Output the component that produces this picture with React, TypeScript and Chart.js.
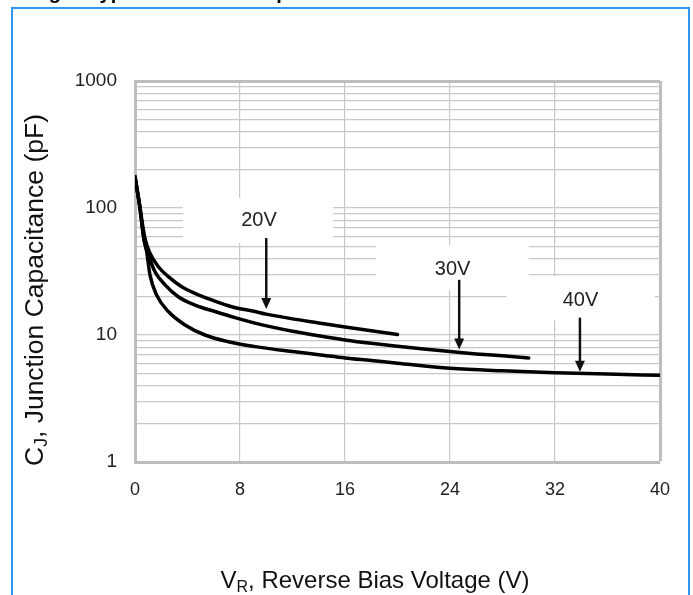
import React, { useEffect, useRef } from "react";
import { Chart, registerables } from "chart.js";

Chart.register(...registerables);

// ---- axis ticks ----
const xTickValues = [0, 8, 16, 24, 32, 40];
const yLabelValues = [1, 10, 100, 1000];
const yGridValues = [
  1, 2, 3, 4, 5, 6, 7, 8, 9,
  10, 20, 30, 40, 50, 60, 70, 80, 90,
  100, 200, 300, 400, 500, 600, 700, 800, 900,
  1000,
];

// ---- series: junction capacitance (pF) vs reverse voltage (V) ----
const v20 = [0, 0.35, 0.76, 1.14, 1.78, 2.54, 3.56, 4.57, 5.84, 7.37, 9.14, 10, 12, 14, 16, 18, 20];
const c20 = [176, 105, 57.7, 44, 34.5, 28.8, 24, 21.3, 18.9, 16.7, 15.3, 14.6, 13.4, 12.45, 11.55, 10.8, 10.1];

const v30 = [0, 0.35, 0.7, 1.02, 1.52, 2.29, 3.3, 4.57, 6.1, 7.62, 9.14, 12, 14, 16, 18, 20, 22, 24, 26, 28, 30];
const c30 = [176, 105, 55, 42.7, 31.5, 24.8, 20, 17.2, 15.3, 13.7, 12.4, 10.7, 9.85, 9.15, 8.6, 8.15, 7.75, 7.4, 7.1, 6.85, 6.6];

const v40 = [0, 0.35, 0.65, 0.89, 1.14, 1.65, 2.54, 3.81, 5.33, 7.11, 9.14, 12, 14, 16, 18, 20, 24, 28, 32, 36, 40];
const c40 = [176, 105, 60, 45.3, 29.7, 20.6, 15.3, 12, 10, 8.85, 8.1, 7.4, 7.0, 6.6, 6.3, 6.0, 5.47, 5.22, 5.05, 4.92, 4.82];

// ---- annotations (data coordinates) ----
const annotationText = ["20V", "30V", "40V"];
const labelV = [9.45, 24.2, 33.94];
const labelC = [80, 32.8, 18.7];
const arrowV = [10.0, 24.7, 33.9];
const arrowFromC = [58, 27.2, 13.7];
const arrowToC = [16.0, 7.7, 5.14];
const boxV0 = [3.66, 18.36, 28.3];
const boxV1 = [15.09, 30.0, 39.6];
const boxTopC = [120, 51, 29.2];
const boxBottomC = [53, 22.7, 13.1];

const pageTitle = "Fig. 4 Typical Junction Capacitance";
const xTitleMain = "V";
const xTitleSub = "R";
const xTitleRest = ", Reverse Bias Voltage (V)";
const yTitleMain = "C";
const yTitleSub = "J";
const yTitleRest = ", Junction Capacitance (pF)";

const FONT = "'Liberation Sans', Arial, Helvetica, sans-serif";

const toXY = (xs: number[], ys: number[]) => xs.map((x, i) => ({ x, y: ys[i] }));

const overlayPlugin = {
  id: "overlay",
  beforeDatasetsDraw(chart: any) {
    const { ctx, scales } = chart;
    const x = scales.x;
    const y = scales.y;
    ctx.save();
    ctx.fillStyle = "#ffffff";
    for (let i = 0; i < boxV0.length; i++) {
      const x0 = x.getPixelForValue(boxV0[i]);
      const x1 = x.getPixelForValue(boxV1[i]);
      const y0 = y.getPixelForValue(boxTopC[i]);
      const y1 = y.getPixelForValue(boxBottomC[i]);
      ctx.fillRect(x0, y0, x1 - x0, y1 - y0);
    }
    ctx.restore();
  },
  afterDatasetsDraw(chart: any) {
    const { ctx, scales } = chart;
    const x = scales.x;
    const y = scales.y;
    ctx.save();
    ctx.strokeStyle = "#111111";
    ctx.font = `20px ${FONT}`;
    ctx.textAlign = "center";
    ctx.textBaseline = "middle";
    for (let i = 0; i < annotationText.length; i++) {
      ctx.fillStyle = "#222222";
      ctx.fillText(annotationText[i], x.getPixelForValue(labelV[i]), y.getPixelForValue(labelC[i]));
      const ax = x.getPixelForValue(arrowV[i]);
      const ay0 = y.getPixelForValue(arrowFromC[i]);
      const ay1 = y.getPixelForValue(arrowToC[i]);
      const headH = 11;
      const headW = 5;
      ctx.lineWidth = 2.5;
      ctx.beginPath();
      ctx.moveTo(ax, ay0);
      ctx.lineTo(ax, ay1 - headH + 1);
      ctx.stroke();
      ctx.fillStyle = "#111111";
      ctx.beginPath();
      ctx.moveTo(ax - headW, ay1 - headH);
      ctx.lineTo(ax + headW, ay1 - headH);
      ctx.lineTo(ax, ay1);
      ctx.closePath();
      ctx.fill();
    }
    ctx.restore();
  },
  afterDraw(chart: any) {
    const { ctx } = chart;
    ctx.save();
    // page frame
    ctx.strokeStyle = "#2a96f0";
    ctx.lineWidth = 2;
    ctx.strokeRect(12, 8, 677, 700);

    // cut-off page title (only descenders visible)
    ctx.fillStyle = "#000000";
    ctx.font = `bold 20px ${FONT}`;
    ctx.textAlign = "left";
    ctx.textBaseline = "alphabetic";
    ctx.fillText(pageTitle, 31, -1);

    // x title with subscript
    ctx.fillStyle = "#111111";
    const mainFont = `24px ${FONT}`;
    const subFont = `16px ${FONT}`;
    ctx.font = mainFont;
    const wMain = ctx.measureText(xTitleMain).width;
    const wRest = ctx.measureText(xTitleRest).width;
    ctx.font = subFont;
    const wSub = ctx.measureText(xTitleSub).width;
    const totalX = wMain + wSub + wRest;
    let sx = 375 - totalX / 2;
    const by = 588;
    ctx.font = mainFont;
    ctx.fillText(xTitleMain, sx, by);
    sx += wMain;
    ctx.font = subFont;
    ctx.fillText(xTitleSub, sx, by + 4);
    sx += wSub;
    ctx.font = mainFont;
    ctx.fillText(xTitleRest, sx, by);

    // y title with subscript, rotated
    const yMainFont = `26.5px ${FONT}`;
    const ySubFont = `17.5px ${FONT}`;
    ctx.translate(43, 290);
    ctx.rotate(-Math.PI / 2);
    ctx.font = yMainFont;
    const yMain = ctx.measureText(yTitleMain).width;
    const yRest = ctx.measureText(yTitleRest).width;
    ctx.font = ySubFont;
    const ySub = ctx.measureText(yTitleSub).width;
    let ty = -(yMain + ySub + yRest) / 2;
    ctx.font = yMainFont;
    ctx.fillText(yTitleMain, ty, 0);
    ty += yMain;
    ctx.font = ySubFont;
    ctx.fillText(yTitleSub, ty, 4);
    ty += ySub;
    ctx.font = yMainFont;
    ctx.fillText(yTitleRest, ty, 0);
    ctx.restore();
  },
};

export default function App() {
  const canvasRef = useRef<HTMLCanvasElement | null>(null);

  useEffect(() => {
    const canvas = canvasRef.current;
    if (!canvas) return;
    const lineStyle = {
      borderColor: "#000000",
      borderWidth: 3.5,
      pointRadius: 0,
      fill: false,
      cubicInterpolationMode: "monotone" as const,
      borderCapStyle: "round" as const,
      borderJoinStyle: "round" as const,
    };
    const chart = new Chart(canvas, {
      type: "line",
      data: {
        datasets: [
          { label: "20V", data: toXY(v20, c20), ...lineStyle },
          { label: "30V", data: toXY(v30, c30), ...lineStyle },
          { label: "40V", data: toXY(v40, c40), ...lineStyle },
        ],
      },
      options: {
        responsive: false,
        animation: false,
        devicePixelRatio: 1,
        layout: { padding: { top: 81, right: 33, bottom: 0, left: 0 } },
        plugins: {
          legend: { display: false },
          tooltip: { enabled: false },
          title: { display: false },
        },
        scales: {
          x: {
            type: "linear",
            min: 0,
            max: 40,
            afterBuildTicks: (scale: any) => {
              scale.ticks = xTickValues.map((v) => ({ value: v }));
            },
            afterFit: (scale: any) => {
              scale.height = 133;
            },
            ticks: {
              autoSkip: false,
              maxRotation: 0,
              padding: 17,
              color: "#222222",
              font: { family: FONT, size: 18 },
            },
            grid: {
              drawTicks: false,
              color: (c: any) => (c.tick && c.tick.value === 40 ? "#bdbdbd" : "#c8c8c8"),
              lineWidth: (c: any) => (c.tick && c.tick.value === 40 ? 3 : 1.2),
            },
            border: { color: "#bdbdbd", width: 3 },
          },
          y: {
            type: "logarithmic",
            min: 1,
            max: 1000,
            afterBuildTicks: (scale: any) => {
              scale.ticks = yGridValues.map((v) => ({ value: v }));
            },
            afterFit: (scale: any) => {
              scale.width = 135;
            },
            ticks: {
              autoSkip: false,
              padding: 18,
              color: "#222222",
              font: { family: FONT, size: 19 },
              callback: (value: any) => (yLabelValues.includes(Number(value)) ? String(value) : ""),
            },
            grid: {
              drawTicks: false,
              color: (c: any) => (c.tick && c.tick.value === 1000 ? "#bdbdbd" : "#c8c8c8"),
              lineWidth: (c: any) => (c.tick && c.tick.value === 1000 ? 3 : 1.2),
            },
            border: { color: "#bdbdbd", width: 3 },
          },
        },
      },
      plugins: [overlayPlugin],
    });
    return () => chart.destroy();
  }, []);

  return (
    <div style={{ position: "absolute", left: 0, top: 0, width: 693, height: 595, overflow: "hidden", background: "#ffffff" }}>
      <canvas ref={canvasRef} width={693} height={595} style={{ display: "block" }} />
    </div>
  );
}
